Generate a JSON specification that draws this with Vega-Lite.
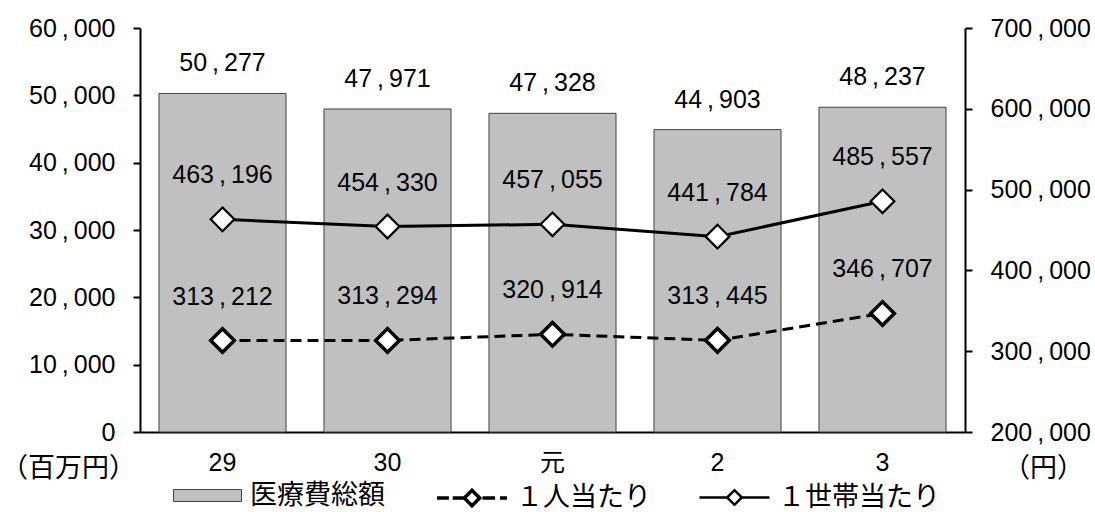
{
  "$schema": "https://vega.github.io/schema/vega-lite/v6.json",
  "width": 825,
  "height": 404,
  "autosize": "none",
  "padding": {"left": 140, "top": 28, "right": 130, "bottom": 80},
  "config": {
    "locale": {"number": {"decimal": ".", "thousands": "\u2009,\u2009", "grouping": [3], "currency": ["", ""]}},
    "font": "'Liberation Sans', 'Noto Sans CJK JP'",
    "view": {"stroke": null},
    "axis": {
      "grid": false,
      "labelFont": "'Liberation Sans', 'Noto Sans CJK JP'",
      "labelFontSize": 25,
      "labelColor": "#000000",
      "domainColor": "#000000",
      "domainWidth": 2,
      "tickColor": "#000000",
      "tickWidth": 2,
      "titleFont": "'Noto Sans CJK JP'",
      "titleFontSize": 27,
      "titleFontWeight": "normal",
      "titleColor": "#000000"
    },
    "legend": {
      "labelFont": "'Liberation Sans', 'Noto Sans CJK JP'",
      "labelFontSize": 27,
      "labelColor": "#000000",
      "labelLimit": 400,
      "padding": 0,
      "title": null,
      "orient": "none"
    }
  },
  "datasets": {
    "totals": [
      {"year": "29", "total": 50277},
      {"year": "30", "total": 47971},
      {"year": "元", "total": 47328},
      {"year": "2", "total": 44903},
      {"year": "3", "total": 48237}
    ],
    "perPerson": [
      {"year": "29", "value": 313212},
      {"year": "30", "value": 313294},
      {"year": "元", "value": 320914},
      {"year": "2", "value": 313445},
      {"year": "3", "value": 346707}
    ],
    "perHousehold": [
      {"year": "29", "value": 463196},
      {"year": "30", "value": 454330},
      {"year": "元", "value": 457055},
      {"year": "2", "value": 441784},
      {"year": "3", "value": 485557}
    ]
  },
  "layer": [
    {
      "data": {"name": "totals"},
      "encoding": {
        "x": {
          "field": "year",
          "type": "nominal",
          "sort": null,
          "scale": {"domain": ["29", "30", "元", "2", "3"], "paddingInner": 0.23, "paddingOuter": 0.115},
          "axis": {"title": null, "labelAngle": 0, "ticks": false, "labelPadding": 18}
        },
        "y": {
          "field": "total",
          "type": "quantitative",
          "scale": {"domain": [0, 60000], "nice": false, "zero": true},
          "axis": {
            "orient": "left",
            "format": ",d",
            "values": [0, 10000, 20000, 30000, 40000, 50000, 60000],
            "tickSize": 7,
            "labelPadding": 18,
            "encode": {"ticks": {"x2": {"value": 7}}},
            "title": "（百万円）",
            "titleAngle": 0,
            "titleAlign": "center",
            "titleBaseline": "middle",
            "titleX": -72,
            "titleY": 440
          }
        }
      },
      "layer": [
        {
          "mark": {"type": "bar", "fill": "#C0C0C0", "stroke": "#404040", "strokeWidth": 1},
          "encoding": {
            "fill": {
              "datum": "医療費総額",
              "scale": {"range": ["#C0C0C0"]},
              "legend": {
                "legendX": 33,
                "legendY": 433,
                "symbolType": "M-1,-0.176H1V0.176H-1Z",
                "symbolSize": 4624,
                "symbolStrokeColor": "#404040",
                "symbolStrokeWidth": 1,
                "labelOffset": 8
              }
            }
          }
        },
        {
          "mark": {"type": "text", "dy": -30, "fontSize": 25, "baseline": "middle", "color": "#000000", "font": "'Liberation Sans'"},
          "encoding": {"text": {"field": "total", "type": "quantitative", "format": ",d"}}
        }
      ]
    },
    {
      "encoding": {
        "x": {
          "field": "year",
          "type": "nominal",
          "sort": null,
          "scale": {"domain": ["29", "30", "元", "2", "3"], "paddingInner": 0.23, "paddingOuter": 0.115}
        },
        "y": {
          "field": "value",
          "type": "quantitative",
          "scale": {"domain": [200000, 700000], "nice": false, "zero": false},
          "axis": {
            "orient": "right",
            "format": ",d",
            "values": [200000, 300000, 400000, 500000, 600000, 700000],
            "tickSize": 7,
            "labelPadding": 18,
            "encode": {"ticks": {"x2": {"value": -7}}},
            "title": "（円）",
            "titleAngle": 0,
            "titleAlign": "center",
            "titleBaseline": "middle",
            "titleX": 78,
            "titleY": 440
          }
        }
      },
      "layer": [
        {
          "data": {"name": "perPerson"},
          "layer": [
            {
              "mark": {"type": "line", "strokeWidth": 3, "strokeDash": [11, 6]},
              "encoding": {
                "color": {
                  "datum": "１人当たり",
                  "scale": {"range": ["#000000"]},
                  "legend": {
                    "legendX": 295,
                    "legendY": 433,
                    "symbolType": "M-1,0H-0.66M-0.55,0H-0.22M-0.22,0L0,-0.22L0.22,0L0,0.22ZM0.3,0H0.66M0.8,0H1",
                    "symbolSize": 4900,
                    "symbolStrokeWidth": 3.5,
                    "symbolFillColor": "#ffffff",
                    "symbolDash": [1, 0],
                    "labelOffset": 7
                  }
                }
              }
            },
            {
              "mark": {"type": "point", "shape": "diamond", "size": 560, "filled": true, "fill": "#ffffff", "stroke": "#000000", "strokeWidth": 3.5, "opacity": 1}
            },
            {
              "mark": {"type": "text", "dy": -44, "fontSize": 25, "baseline": "middle", "color": "#000000", "font": "'Liberation Sans'"},
              "encoding": {"text": {"field": "value", "type": "quantitative", "format": ",d"}}
            }
          ]
        },
        {
          "data": {"name": "perHousehold"},
          "layer": [
            {
              "mark": {"type": "line", "strokeWidth": 3},
              "encoding": {
                "color": {
                  "datum": "１世帯当たり",
                  "scale": {"range": ["#000000"]},
                  "legend": {
                    "legendX": 558,
                    "legendY": 433,
                    "symbolType": "M-1,0H-0.21M0.21,0H1M-0.21,0L0,-0.21L0.21,0L0,0.21Z",
                    "symbolSize": 4900,
                    "symbolStrokeWidth": 2.5,
                    "symbolFillColor": "#ffffff",
                    "labelOffset": 7
                  }
                }
              }
            },
            {
              "mark": {"type": "point", "shape": "diamond", "size": 560, "filled": true, "fill": "#ffffff", "stroke": "#000000", "strokeWidth": 2.2, "opacity": 1}
            },
            {
              "mark": {"type": "text", "dy": -44, "fontSize": 25, "baseline": "middle", "color": "#000000", "font": "'Liberation Sans'"},
              "encoding": {"text": {"field": "value", "type": "quantitative", "format": ",d"}}
            }
          ]
        }
      ],
      "resolve": {"scale": {"color": "independent"}}
    }
  ],
  "resolve": {"scale": {"y": "independent", "fill": "independent", "color": "independent"}}
}
